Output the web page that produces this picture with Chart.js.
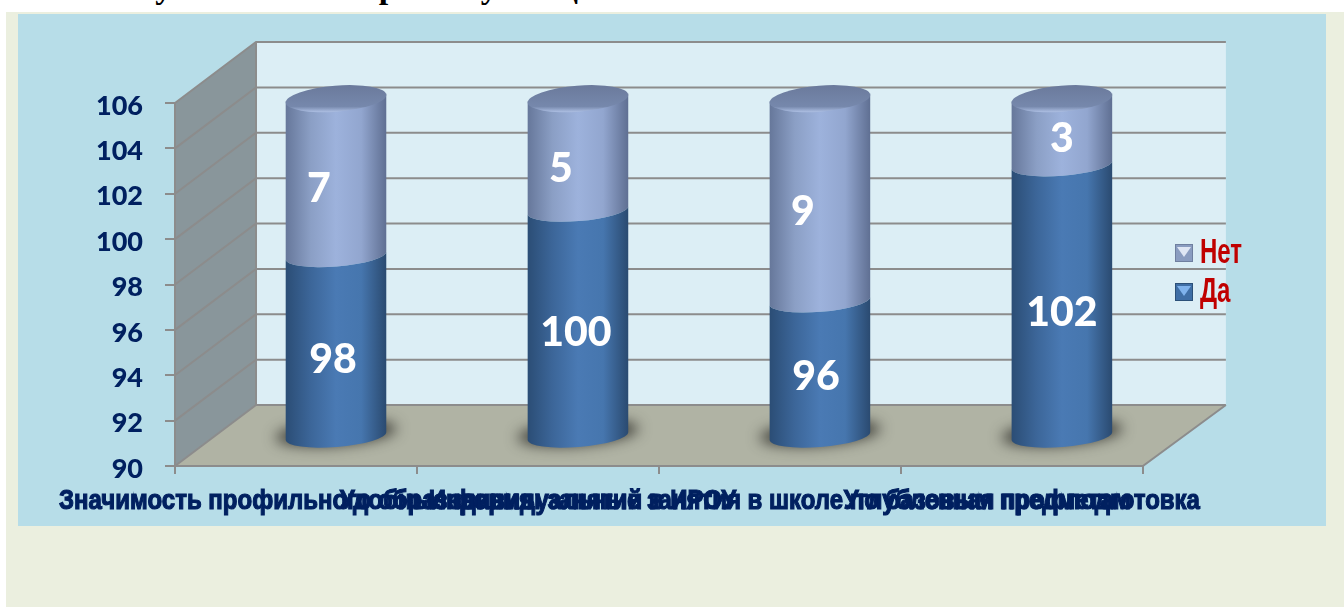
<!DOCTYPE html>
<html lang="ru">

<head>
    <meta charset="UTF-8">
    <title>Результаты опроса</title>
    <style>
        body {
            margin: 0;
            padding: 0;
            background-color: #ffffff;
            overflow: hidden;
        }

        .heading {
            position: absolute;
            left: 92px;
            top: -32px;
            margin: 0;
            font: bold 34px "Liberation Serif", serif;
            letter-spacing: 5px;
            color: #000000;
            white-space: nowrap;
        }

        .page {
            position: absolute;
            left: 6px;
            top: 12px;
            width: 1338px;
            height: 595px;
            background-color: #ebefdf;
        }

        .panel {
            position: absolute;
            left: 18px;
            top: 14px;
            width: 1308px;
            height: 512px;
            background-color: #b7dde8;
        }

        #myChart {
            position: absolute;
            left: 0;
            top: 0;
        }
    </style>
    <script src="https://cdn.jsdelivr.net/npm/chart.js"></script>
</head>

<body>
    <p class="heading">Результаты опроса учащихся 11 классов</p>
    <div class="page"></div>
    <div class="panel"></div>
    <canvas id="myChart" width="1344" height="607"></canvas>

    <script>
        // Значения
        const categories = [
            'Значимость профильного образования',
            'Удобные формы занятий в ИРОУ',
            'Индивидуальные занятия в школе по базовым предметам',
            'Углубленная профподготовка'
        ];
        const seriesNames = ['Да', 'Нет'];
        const yesValues = [98, 100, 96, 102];
        const noValues = [7, 5, 9, 3];
        const yMin = 90;
        const yMax = 106;
        const yStep = 2;

        const yesStops = ['#2b4d75', '#3c6699', '#4a7ab4', '#4676ae', '#2a4a70'];
        const noStops = ['#66779a', '#8b9fc5', '#9db2dc', '#92a6cf', '#5f6f92'];
        const swatchColors = ['#3f6ea5', '#8a9cc0'];

        // подписи в оригинале сдвинуты вручную
        const labelNudgeX = [[-3, -2, -4, 0], [-17, -17, -17, 0]];
        const labelNudgeY = [[14, 10, 8, 12], [13, 15, 13, 8]];

        // глубина псевдо-3D
        const depthX = 81;
        const depthY = -61;
        const barShiftX = 40;
        const barShiftY = -29;
        const ellipseRy = 11;
        const ellipseTilt = -0.08;

        function barGradient(context, stops) {
            const xScale = context.chart.scales.x;
            const cx = xScale.getPixelForValue(context.dataIndex);
            const half = xScale.width / categories.length * 0.417 / 2;
            const g = context.chart.ctx.createLinearGradient(cx - half, 0, cx + half, 0);
            stops.forEach((c, i) => g.addColorStop(i / (stops.length - 1), c));
            return g;
        }

        // вытягиваем текст по вертикали, шрифт в оригинале узкий и высокий
        function stretchY(obj, method, y0, k) {
            const orig = obj[method];
            obj[method] = function (...args) {
                const ctx = this.ctx;
                ctx.save();
                ctx.translate(0, y0);
                ctx.scale(1, k);
                ctx.translate(0, -y0);
                orig.apply(this, args);
                ctx.restore();
            };
        }

        // столбик рисуем цилиндром
        Chart.BarElement.prototype.draw = function (ctx) {
            const { x, y, base, width } = this.getProps(['x', 'y', 'base', 'width']);
            const rx = width / 2;
            ctx.save();
            ctx.beginPath();
            ctx.ellipse(x, base, rx, ellipseRy, ellipseTilt, Math.PI, 0, true);
            ctx.ellipse(x, y, rx, ellipseRy, ellipseTilt, 0, Math.PI, false);
            ctx.closePath();
            ctx.fillStyle = this.options.backgroundColor;
            ctx.fill();
            ctx.restore();
        };

        const frame3d = {
            id: 'frame3d',
            beforeDraw(chart) {
                const { ctx, scales: { x, y } } = chart;
                const l = x.left, r = x.right, t = y.top, b = y.bottom;
                if (!chart.$stretched) {
                    stretchY(x, 'drawLabels', 501, 1.15);
                    stretchY(chart.legend, 'draw', 250, 1.45);
                    chart.$stretched = true;
                }
                ctx.save();
                ctx.fillStyle = '#dceef5';
                ctx.fillRect(l + depthX, t + depthY, r - l + 2, b - t);
                ctx.fillStyle = '#89969b';
                ctx.beginPath();
                ctx.moveTo(l, t);
                ctx.lineTo(l + depthX, t + depthY);
                ctx.lineTo(l + depthX, b + depthY);
                ctx.lineTo(l, b);
                ctx.fill();
                ctx.fillStyle = '#b0b3a4';
                ctx.beginPath();
                ctx.moveTo(l, b);
                ctx.lineTo(l + depthX, b + depthY);
                ctx.lineTo(r + depthX + 2, b + depthY);
                ctx.lineTo(r, b);
                ctx.fill();
                ctx.strokeStyle = '#8c8c8c';
                ctx.lineWidth = 2;
                y.ticks.forEach((tick, i) => {
                    const py = y.getPixelForTick(i);
                    ctx.beginPath();
                    ctx.moveTo(l, py);
                    ctx.lineTo(l + depthX, py + depthY);
                    ctx.lineTo(r + depthX + 2, py + depthY);
                    ctx.stroke();
                });
                ctx.beginPath();
                ctx.moveTo(l, t);
                ctx.lineTo(l, b);
                ctx.moveTo(l + depthX, t + depthY);
                ctx.lineTo(l + depthX, b + depthY);
                ctx.moveTo(l, b);
                ctx.lineTo(r, b);
                ctx.lineTo(r + depthX + 2, b + depthY);
                ctx.stroke();
                ctx.restore();
            },
            beforeDatasetsDraw(chart) {
                const ctx = chart.ctx;
                ctx.save();
                ctx.translate(barShiftX, barShiftY);
                // тень на полу: сам эллипс за краем холста, видна только тень
                chart.getDatasetMeta(0).data.forEach(bar => {
                    ctx.save();
                    ctx.shadowColor = 'rgba(55, 55, 50, 0.95)';
                    ctx.shadowBlur = 14;
                    ctx.shadowOffsetX = 3000;
                    ctx.fillStyle = '#000000';
                    ctx.beginPath();
                    ctx.ellipse(bar.x - 3000, bar.base - 3, bar.width / 2 + 10, ellipseRy + 1, ellipseTilt, 0, Math.PI * 2);
                    ctx.fill();
                    ctx.restore();
                });
            },
            afterDatasetsDraw(chart) {
                const ctx = chart.ctx;
                // верхние крышки
                chart.getDatasetMeta(1).data.forEach(bar => {
                    const cy = bar.y + 2;
                    const g = ctx.createLinearGradient(0, cy - 13, 0, cy + 13);
                    g.addColorStop(0, '#6b7a9c');
                    g.addColorStop(0.8, '#7688ac');
                    g.addColorStop(1, '#a9bbdf');
                    ctx.fillStyle = g;
                    ctx.beginPath();
                    ctx.ellipse(bar.x, cy, bar.width / 2, 13, ellipseTilt, 0, Math.PI * 2);
                    ctx.fill();
                });
                // подписи значений
                ctx.fillStyle = '#ffffff';
                ctx.font = '900 41px Lato, sans-serif';
                ctx.textAlign = 'center';
                ctx.textBaseline = 'middle';
                [yesValues, noValues].forEach((values, d) => {
                    chart.getDatasetMeta(d).data.forEach((bar, i) => {
                        ctx.fillText(values[i], bar.x + labelNudgeX[d][i], (bar.y + bar.base) / 2 + labelNudgeY[d][i]);
                    });
                });
                ctx.restore();
            },
            afterDraw(chart) {
                // значки легенды
                const { ctx, legend } = chart;
                ctx.save();
                legend.legendHitBoxes.forEach((box, i) => {
                    const sx = 1175, sy = 244 + i * 39, s = 18;
                    const color = swatchColors[seriesNames.length - 1 - i];
                    ctx.fillStyle = color;
                    ctx.fillRect(sx, sy, s, s);
                    ctx.fillStyle = i === 0 ? '#dfe6f4' : '#7fb2ec';
                    ctx.beginPath();
                    ctx.moveTo(sx + 2, sy + 3);
                    ctx.lineTo(sx + s - 2, sy + 3);
                    ctx.lineTo(sx + s / 2, sy + s - 5);
                    ctx.fill();
                    ctx.strokeStyle = i === 0 ? '#6f7f9f' : '#2c5078';
                    ctx.lineWidth = 1;
                    ctx.strokeRect(sx + 0.5, sy + 0.5, s - 1, s - 1);
                });
                ctx.restore();
            },
            afterLayout(chart) {
                // легенду сдвигаем на стену
                const legend = chart.legend;
                const dx = 1175 - legend.left;
                const dy = 237 - legend.top;
                legend.left += dx;
                legend.right += dx;
                legend.top += dy;
                legend.bottom += dy;
            }
        };

        const myChart = new Chart(document.getElementById('myChart').getContext('2d'), {
            type: 'bar',
            data: {
                labels: categories,
                datasets: [
                    {
                        label: seriesNames[0],
                        data: yesValues,
                        base: yMin,
                        backgroundColor: c => barGradient(c, yesStops),
                        clip: false,
                        categoryPercentage: 1,
                        barPercentage: 0.417
                    },
                    {
                        label: seriesNames[1],
                        data: noValues,
                        backgroundColor: c => barGradient(c, noStops),
                        clip: false,
                        categoryPercentage: 1,
                        barPercentage: 0.417
                    }
                ]
            },
            options: {
                responsive: false,
                animation: false,
                layout: { padding: { left: 0, top: 103, right: 124, bottom: 0 } },
                plugins: {
                    tooltip: { enabled: false },
                    legend: {
                        position: 'right',
                        align: 'start',
                        reverse: true,
                        labels: {
                            boxWidth: 10,
                            boxHeight: 10,
                            padding: 3,
                            font: { family: '"Liberation Sans"', size: 24, weight: 'bold' },
                            generateLabels(chart) {
                                return seriesNames.map((name, i) => ({
                                    text: name,
                                    fontColor: '#c00000',
                                    fillStyle: 'rgba(0,0,0,0)',
                                    strokeStyle: 'rgba(0,0,0,0)',
                                    lineWidth: 0,
                                    datasetIndex: i
                                }));
                            }
                        }
                    }
                },
                scales: {
                    x: {
                        stacked: true,
                        grid: { drawOnChartArea: false, color: '#8c8c8c', lineWidth: 2, tickLength: 8 },
                        border: { display: false },
                        afterFit(scale) { scale.height = 141; },
                        ticks: {
                            autoSkip: false,
                            maxRotation: 0,
                            padding: 13,
                            color: '#002060',
                            textStrokeColor: '#002060',
                            textStrokeWidth: 1,
                            font: { family: '"Liberation Sans"', size: 24, weight: 'bold' }
                        }
                    },
                    y: {
                        stacked: true,
                        min: yMin,
                        max: yMax,
                        grid: { drawOnChartArea: false, color: '#8c8c8c', lineWidth: 2, tickLength: 10 },
                        border: { display: false },
                        afterFit(scale) { scale.width = 175; },
                        ticks: {
                            stepSize: yStep,
                            padding: 22,
                            labelOffset: 3,
                            color: '#002060',
                            font: { family: 'Lato, sans-serif', size: 27, weight: '900' }
                        }
                    }
                }
            },
            plugins: [frame3d]
        });
    </script>
</body>

</html>
